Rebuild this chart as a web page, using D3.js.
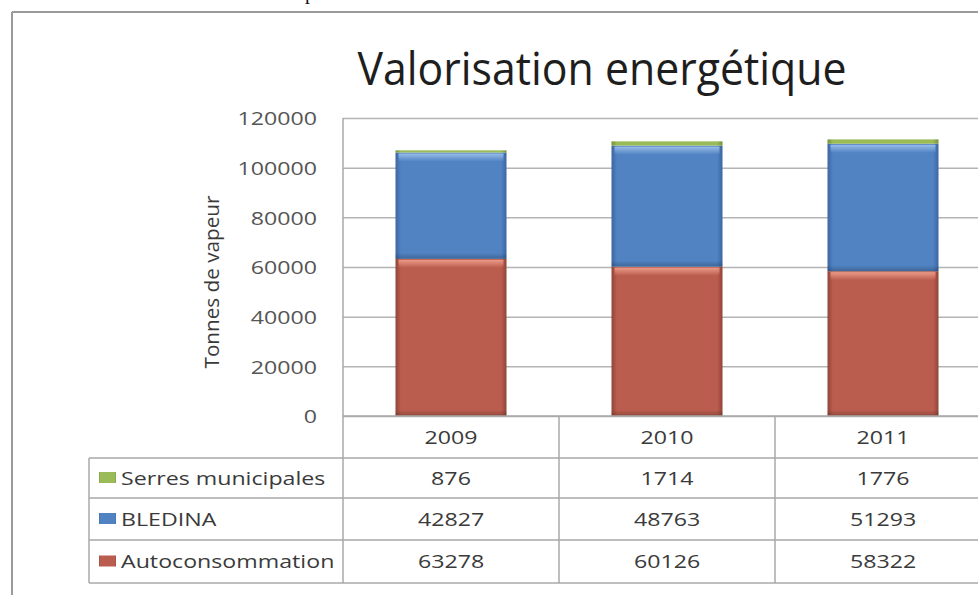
<!DOCTYPE html>
<html>
<head>
<meta charset="utf-8">
<script src="https://cdn.jsdelivr.net/npm/d3@7"></script>
<style>
body { margin: 0; background: #fff; }
svg { display: block; font-family: "Open Sans", sans-serif; }
</style>
</head>
<body>
<div id="chart"></div>
<script>
// data
var years = ["2009", "2010", "2011"];
var serres = [876, 1714, 1776];
var bledina = [42827, 48763, 51293];
var autoconso = [63278, 60126, 58322];
var seriesKeys = ["serres", "bledina", "auto"];
var seriesNames = ["Serres municipales", "BLEDINA", "Autoconsommation"];
var yTicks = [0, 20000, 40000, 60000, 80000, 100000, 120000];

var svgWidth = 978;
var svgHeight = 595;

var plotLeft = 343, plotTop = 118, plotBottom = 416;
var colWidth = 216;
var barWidth = 111;
var tableLeft = 89;
var rowLines = [416, 458, 498, 540, 583];
var sx = 1.22; // the picture is stretched sideways

var colors = {
  serres: { base: "#9bbb59", dark: "#76923c", light: "#c3d69b" },
  bledina: { base: "#5183c3", dark: "#3b66a2", light: "#9cbfea" },
  auto: { base: "#bb5d4e", dark: "#924438", light: "#ef9e8c" }
};

var rows = years.map(function(y, i) {
  return { year: y, auto: autoconso[i], bledina: bledina[i], serres: serres[i] };
});

var svg = d3.select("#chart")
  .append("svg")
  .attr("width", svgWidth)
  .attr("height", svgHeight);

// gradients for the bars
var defs = svg.append("defs");
seriesKeys.forEach(function(k) {
  var gr = defs.append("linearGradient")
    .attr("id", "grad-" + k)
    .attr("x1", "0").attr("x2", "1").attr("y1", "0").attr("y2", "0");
  gr.append("stop").attr("offset", "0%").attr("stop-color", colors[k].dark);
  gr.append("stop").attr("offset", "5%").attr("stop-color", colors[k].base);
  gr.append("stop").attr("offset", "95%").attr("stop-color", colors[k].base);
  gr.append("stop").attr("offset", "100%").attr("stop-color", colors[k].dark);

  var hl = defs.append("linearGradient")
    .attr("id", "hl-" + k)
    .attr("x1", "0").attr("x2", "0").attr("y1", "0").attr("y2", "1");
  hl.append("stop").attr("offset", "0%").attr("stop-color", colors[k].light).attr("stop-opacity", 0.95);
  hl.append("stop").attr("offset", "100%").attr("stop-color", colors[k].light).attr("stop-opacity", 0);
});
var vg = defs.append("linearGradient")
  .attr("id", "shade")
  .attr("x1", "0").attr("x2", "0").attr("y1", "0").attr("y2", "1");
vg.append("stop").attr("offset", "0%").attr("stop-color", "#000").attr("stop-opacity", 0);
vg.append("stop").attr("offset", "100%").attr("stop-color", "#000").attr("stop-opacity", 0.22);

// outer frame
svg.append("line")
  .attr("x1", 12).attr("x2", svgWidth).attr("y1", 12).attr("y2", 12)
  .attr("stroke", "#9a9a9a").attr("stroke-width", 2);
svg.append("line")
  .attr("x1", 12).attr("x2", 12).attr("y1", 12).attr("y2", svgHeight)
  .attr("stroke", "#9a9a9a").attr("stroke-width", 2);

// cut-off text above the frame
svg.append("text")
  .attr("x", 305).attr("y", -1)
  .style("font-family", "'Liberation Serif', serif")
  .style("font-size", "20px")
  .attr("fill", "#111")
  .text("p");

var x = d3.scaleBand()
  .domain(years)
  .range([plotLeft, plotLeft + colWidth * years.length]);

var y = d3.scaleLinear()
  .domain([0, 120000])
  .range([plotBottom, plotTop]);

// gridlines
var grid = svg.append("g")
  .attr("transform", `translate(${plotLeft}, 0)`)
  .call(d3.axisLeft(y).tickValues(yTicks).tickSize(-(svgWidth - plotLeft)).tickFormat(""));
grid.select(".domain").remove();
grid.selectAll("line").attr("stroke", "#b4b4b4").attr("stroke-width", 1.5);

// plot border (left)
svg.append("line")
  .attr("x1", plotLeft).attr("x2", plotLeft)
  .attr("y1", plotTop).attr("y2", rowLines[rowLines.length - 1])
  .attr("stroke", "#a8a8a8").attr("stroke-width", 1.5);

// y axis labels
var yAxis = svg.append("g")
  .attr("transform", `translate(${plotLeft}, 0)`)
  .call(d3.axisLeft(y).tickValues(yTicks).tickSize(0).tickFormat(d3.format("d")));
yAxis.select(".domain").remove();
yAxis.selectAll("text")
  .attr("x", -26 / sx)
  .attr("dy", "0.36em")
  .attr("transform", `scale(${sx},1)`)
  .attr("fill", "#555")
  .style("font-family", "'Open Sans', sans-serif")
  .style("font-size", "19px");

svg.append("text")
  .attr("transform", "translate(219, 282) rotate(-90)")
  .attr("text-anchor", "middle")
  .attr("textLength", 173)
  .attr("lengthAdjust", "spacingAndGlyphs")
  .attr("fill", "#3a3a3a")
  .style("font-size", "20px")
  .text("Tonnes de vapeur");

// title
svg.append("text")
  .attr("x", 602).attr("y", 85)
  .attr("text-anchor", "middle")
  .attr("textLength", 489)
  .attr("lengthAdjust", "spacingAndGlyphs")
  .attr("fill", "#1e1e1e")
  .style("font-size", "45px")
  .text("Valorisation energétique");

// stacked bars
var stack = d3.stack().keys(["auto", "bledina", "serres"]);
var stacked = stack(rows);
var off = (colWidth - barWidth) / 2;

function segs(s) {
  return s.map(function(d) { return { key: s.key, d: d }; });
}
function segH(p) { return y(p.d[0]) - y(p.d[1]); }

var layers = svg.append("g").selectAll("g")
  .data(stacked)
  .enter()
  .append("g");

layers.selectAll("rect.bar")
  .data(segs)
  .enter()
  .append("rect")
  .attr("class", "bar")
  .attr("x", function(p) { return x(p.d.data.year) + off; })
  .attr("y", function(p) { return y(p.d[1]); })
  .attr("width", barWidth)
  .attr("height", segH)
  .attr("fill", function(p) { return "url(#grad-" + p.key + ")"; });

// top light band
layers.selectAll("rect.hl")
  .data(function(s) { return segs(s).filter(function(p) { return segH(p) > 12; }); })
  .enter()
  .append("rect")
  .attr("class", "hl")
  .attr("x", function(p) { return x(p.d.data.year) + off + 3; })
  .attr("y", function(p) { return y(p.d[1]) + 1; })
  .attr("width", barWidth - 6)
  .attr("height", 8)
  .attr("fill", function(p) { return "url(#hl-" + p.key + ")"; });

// darker bottom band
layers.selectAll("rect.shade")
  .data(function(s) { return segs(s).filter(function(p) { return segH(p) > 12; }); })
  .enter()
  .append("rect")
  .attr("class", "shade")
  .attr("x", function(p) { return x(p.d.data.year) + off; })
  .attr("y", function(p) { return y(p.d[0]) - 6; })
  .attr("width", barWidth)
  .attr("height", 6)
  .attr("fill", "url(#shade)");

// data table lines
var tableG = svg.append("g");
rowLines.forEach(function(ly, i) {
  tableG.append("line")
    .attr("x1", i === 0 ? plotLeft : tableLeft).attr("x2", svgWidth)
    .attr("y1", ly).attr("y2", ly)
    .attr("stroke", "#a8a8a8").attr("stroke-width", 1.5);
});
tableG.append("line")
  .attr("x1", tableLeft).attr("x2", tableLeft)
  .attr("y1", rowLines[1]).attr("y2", rowLines[4])
  .attr("stroke", "#a8a8a8").attr("stroke-width", 1.5);
years.slice(1).forEach(function(yr) {
  tableG.append("line")
    .attr("x1", x(yr)).attr("x2", x(yr))
    .attr("y1", rowLines[0]).attr("y2", rowLines[4])
    .attr("stroke", "#a8a8a8").attr("stroke-width", 1.5);
});

// category labels
var xAxis = svg.append("g")
  .attr("transform", `translate(0, ${plotBottom})`)
  .call(d3.axisBottom(x).tickSize(0));
xAxis.select(".domain").remove();
xAxis.selectAll("text")
  .attr("y", 21)
  .attr("dy", "0.36em")
  .attr("transform", `scale(${sx},1)`)
  .attr("fill", "#3a3a3a")
  .style("font-family", "'Open Sans', sans-serif")
  .style("font-size", "19px");

// table rows
var tableData = [
  { key: "serres", name: seriesNames[0], values: serres },
  { key: "bledina", name: seriesNames[1], values: bledina },
  { key: "auto", name: seriesNames[2], values: autoconso }
];

tableData.forEach(function(row, i) {
  var cy = (rowLines[i + 1] + rowLines[i + 2]) / 2;
  tableG.append("rect")
    .attr("x", 99).attr("y", cy - 6)
    .attr("width", 17).attr("height", 11)
    .attr("fill", "url(#grad-" + row.key + ")");
  tableG.append("text")
    .attr("transform", `translate(121, ${cy}) scale(${sx},1)`)
    .attr("dy", "0.36em")
    .attr("fill", "#3a3a3a")
    .style("font-size", "19px")
    .text(row.name);
  row.values.forEach(function(v, j) {
    tableG.append("text")
      .attr("transform", `translate(${x(years[j]) + x.bandwidth() / 2}, ${cy}) scale(${sx},1)`)
      .attr("dy", "0.36em")
      .attr("text-anchor", "middle")
      .attr("fill", "#3a3a3a")
      .style("font-size", "19px")
      .text(v);
  });
});
</script>
</body>
</html>
